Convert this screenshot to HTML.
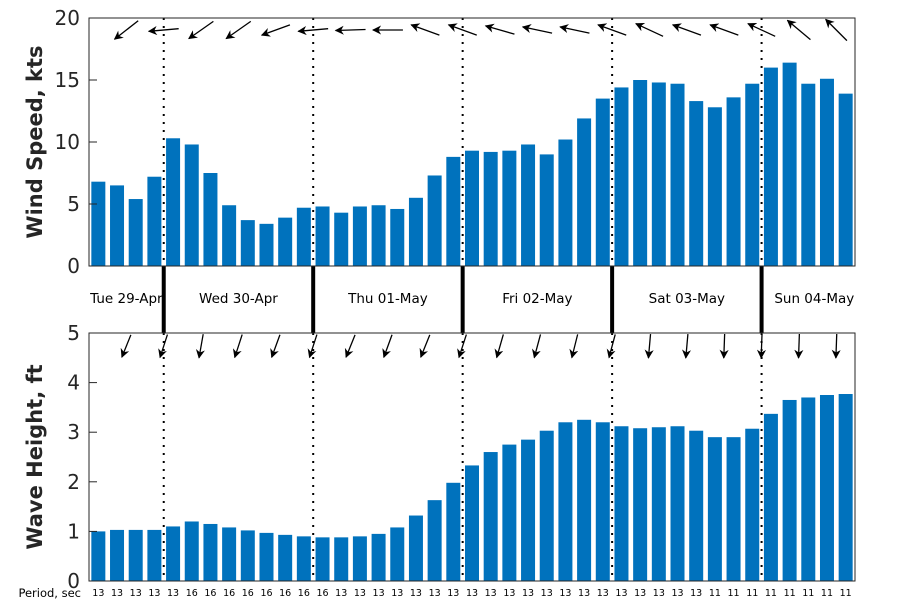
<!DOCTYPE html>
<html><head><meta charset="utf-8"><style>
body{margin:0;background:#fff;}
svg{display:block;font-family:"DejaVu Sans","Liberation Sans",sans-serif;}
</style></head><body>
<svg id="c" width="900" height="600"></svg>
<script>
const windSpeed=[6.8,6.5,5.4,7.2,10.3,9.8,7.5,4.9,3.7,3.4,3.9,4.7,4.8,4.3,4.8,4.9,4.6,5.5,7.3,8.8,9.3,9.2,9.3,9.8,9.0,10.2,11.9,13.5,14.4,15.0,14.8,14.7,13.3,12.8,13.6,14.7,16.0,16.4,14.7,15.1,13.9];
const waveHeight=[1.0,1.03,1.03,1.03,1.1,1.2,1.15,1.08,1.02,0.97,0.93,0.9,0.88,0.88,0.9,0.95,1.08,1.32,1.63,1.98,2.33,2.6,2.75,2.85,3.03,3.2,3.25,3.2,3.12,3.08,3.1,3.12,3.03,2.9,2.9,3.07,3.37,3.65,3.7,3.75,3.77];
const periods=[13,13,13,13,13,16,16,16,16,16,16,16,16,13,13,13,13,13,13,13,13,13,13,13,13,13,13,13,13,13,13,13,13,11,11,11,11,11,11,11,11];
const windDir=[142,175,145,145,160,175,178,180,200,200,196,192,192,200,205,200,200,205,220,225];
const waveDir=[112,108,100,108,110,108,112,110,112,108,106,105,104,105,95,95,92,92,92,92];
const dayLabels=["Tue 29-Apr","Wed 30-Apr","Thu 01-May","Fri 02-May","Sat 03-May","Sun 04-May"];
const dayStarts=[0,4,12,20,28,36];
const windTicks=[0,5,10,15,20];
const waveTicks=[0,1,2,3,4,5];

const NS="http://www.w3.org/2000/svg";
const svg=document.getElementById('c');
function mk(t,a,p){const e=document.createElementNS(NS,t);for(const k in a)e.setAttribute(k,a[k]);(p||svg).appendChild(e);return e;}
const L=89,R=855,step=(R-L)/41,bw=14;
const xC=i=>L+step*(i+0.5);
const xB=i=>L+step*i;
const top1=18,bot1=266,top2=333,bot2=581;
const yW=v=>bot1-(v/20)*(bot1-top1);
const yH=v=>bot2-(v/5)*(bot2-top2);

mk('defs',{}).innerHTML='<marker id="ah" viewBox="0 0 10 10" refX="9" refY="5" markerWidth="7" markerHeight="7" orient="auto"><path d="M0,0 L10,5 L0,10 L3,5 z" fill="#000"/></marker>';

// bars
windSpeed.forEach((v,i)=>{const r=mk('rect',{x:xC(i)-bw/2,y:yW(v),width:bw,height:bot1-yW(v),fill:'#0072bd'});

});
waveHeight.forEach((v,i)=>{const r=mk('rect',{x:xC(i)-bw/2,y:yH(v),width:bw,height:bot2-yH(v),fill:'#0072bd'});

});

// day dividers
dayStarts.slice(1).forEach(s=>{const x=xB(s);
const d1=mk('line',{x1:x,y1:top1,x2:x,y2:bot1,stroke:'#000','stroke-width':2,'stroke-dasharray':'2,6'});


mk('line',{x1:x,y1:top2,x2:x,y2:bot2,stroke:'#000','stroke-width':2,'stroke-dasharray':'2,6'});
const t=mk('line',{x1:x,y1:bot1,x2:x,y2:top2,stroke:'#000','stroke-width':4});

});
dayLabels.forEach((lab,i)=>{const a=xB(dayStarts[i]);const b=i<dayStarts.length-1?xB(dayStarts[i+1]):R+12;
const t=mk('text',{x:(a+b)/2,y:303,'text-anchor':'middle','font-size':13.5,fill:'#000'});t.textContent=lab;

});

// arrows
function arrow(cx,cy,ang,len){const r=ang*Math.PI/180,dx=Math.cos(r)*len/2,dy=Math.sin(r)*len/2;
return mk('line',{x1:cx-dx,y1:cy-dy,x2:cx+dx,y2:cy+dy,stroke:'#000','stroke-width':1.3,'marker-end':'url(#ah)'});}
windDir.forEach((a,k)=>{const e=arrow(xB(2*k+1)+step/2+step/2,30,a,30);

});
waveDir.forEach((a,k)=>{const e=arrow(xB(2*k+1)+step/2+step/2,346,a,24);

});

// axes frames
const f1=mk('rect',{x:L,y:top1,width:R-L,height:bot1-top1,fill:'none',stroke:'#262626','stroke-width':1});

const f2=mk('rect',{x:L,y:top2,width:R-L,height:bot2-top2,fill:'none',stroke:'#262626','stroke-width':1});


windTicks.forEach(v=>{const y=yW(v);mk('line',{x1:L,y1:y,x2:L+8,y2:y,stroke:'#262626'});
const t=mk('text',{x:80,y:y+7,'text-anchor':'end','font-size':20,fill:'#262626'});t.textContent=v;
});
waveTicks.forEach(v=>{const y=yH(v);mk('line',{x1:L,y1:y,x2:L+8,y2:y,stroke:'#262626'});
const t=mk('text',{x:80,y:y+7,'text-anchor':'end','font-size':20,fill:'#262626'});t.textContent=v;
});

let yl=mk('text',{x:0,y:0,transform:'translate(42,142) rotate(-90)','text-anchor':'middle','font-size':21,'font-weight':'bold',fill:'#262626'});
yl.textContent='Wind Speed, kts';
yl=mk('text',{x:0,y:0,transform:'translate(42,457) rotate(-90)','text-anchor':'middle','font-size':21,'font-weight':'bold',fill:'#262626'});
yl.textContent='Wave Height, ft';

const pl=mk('text',{x:81,y:597,'text-anchor':'end','font-size':11.5,fill:'#000'});pl.textContent='Period, sec';

periods.forEach((p,i)=>{const t=mk('text',{x:xC(i),y:596,'text-anchor':'middle','font-size':9.5,fill:'#000'});t.textContent=p;
});
</script>
</body></html>
